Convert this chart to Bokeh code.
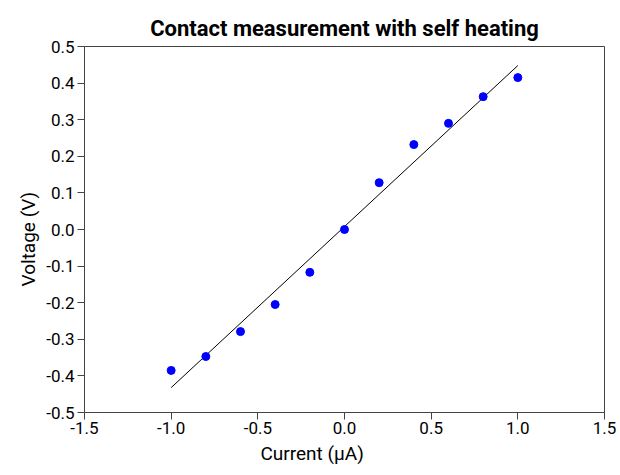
from bokeh.plotting import figure
from bokeh.models import Range1d, FixedTicker, Title
from bokeh.embed import file_html
from bokeh.resources import INLINE

current = [-1.0, -0.8, -0.6, -0.4, -0.2, 0.0, 0.2, 0.4, 0.6, 0.8, 1.0]
voltage = [-0.385, -0.347, -0.279, -0.205, -0.117, 0.0, 0.128, 0.232, 0.290, 0.363, 0.415]
fit_x = [-1.0, 1.0]
fit_y = [-0.432, 0.448]
x_ticks = [-1.5, -1.0, -0.5, 0.0, 0.5, 1.0, 1.5]
y_ticks = [-0.5, -0.4, -0.3, -0.2, -0.1, 0.0, 0.1, 0.2, 0.3, 0.4, 0.5]
x_label = "Current (µA)"
y_label = "Voltage (V)"
title = "Contact measurement with self heating"

FONT = "Roboto"

p = figure(width=620, height=475, output_backend="svg", toolbar_location=None,
           x_range=Range1d(-1.5, 1.5), y_range=Range1d(-0.5, 0.5),
           min_border_left=84, min_border_right=16, min_border_top=46, min_border_bottom=63)
p.title = Title(text=title, align="center",
                text_font=FONT, text_font_size="22px", text_font_style="bold",
                text_color="black")
p.title.standoff = 11

p.line(fit_x, fit_y, line_color="black", line_width=1)
p.scatter(current, voltage, size=8, color="blue", line_color="blue")

p.grid.visible = False
p.outline_line_color = "#444444"
p.outline_line_width = 1
p.background_fill_color = "white"
p.border_fill_color = "white"

for ax in (p.xaxis[0], p.yaxis[0]):
    ax.major_label_text_font = FONT
    ax.major_label_text_font_size = "17px"
    ax.major_label_text_color = "black"
    ax.axis_line_color = "#444444"
    ax.major_tick_line_color = "#444444"
    ax.major_tick_out = 7
    ax.major_tick_in = 0
    ax.minor_tick_line_color = None

p.xaxis.ticker = FixedTicker(ticks=x_ticks)
p.yaxis.ticker = FixedTicker(ticks=y_ticks)
p.xaxis.major_label_overrides = {t: f"{t:.1f}" for t in x_ticks}
p.yaxis.major_label_overrides = {t: f"{t:.1f}" for t in y_ticks}
p.xaxis.major_label_standoff = 2
p.yaxis.major_label_standoff = 3

# axis titles, centred on the whole figure as in the reference
p.add_layout(Title(text=x_label, align="left", offset=176, text_font=FONT,
                   text_font_size="19px", text_font_style="normal",
                   text_color="black", standoff=7), "below")
p.add_layout(Title(text=y_label, align="left", offset=126, text_font=FONT,
                   text_font_size="19px", text_font_style="normal",
                   text_color="black", standoff=7), "left")

open("out.html", "w").write(file_html(p, INLINE))
